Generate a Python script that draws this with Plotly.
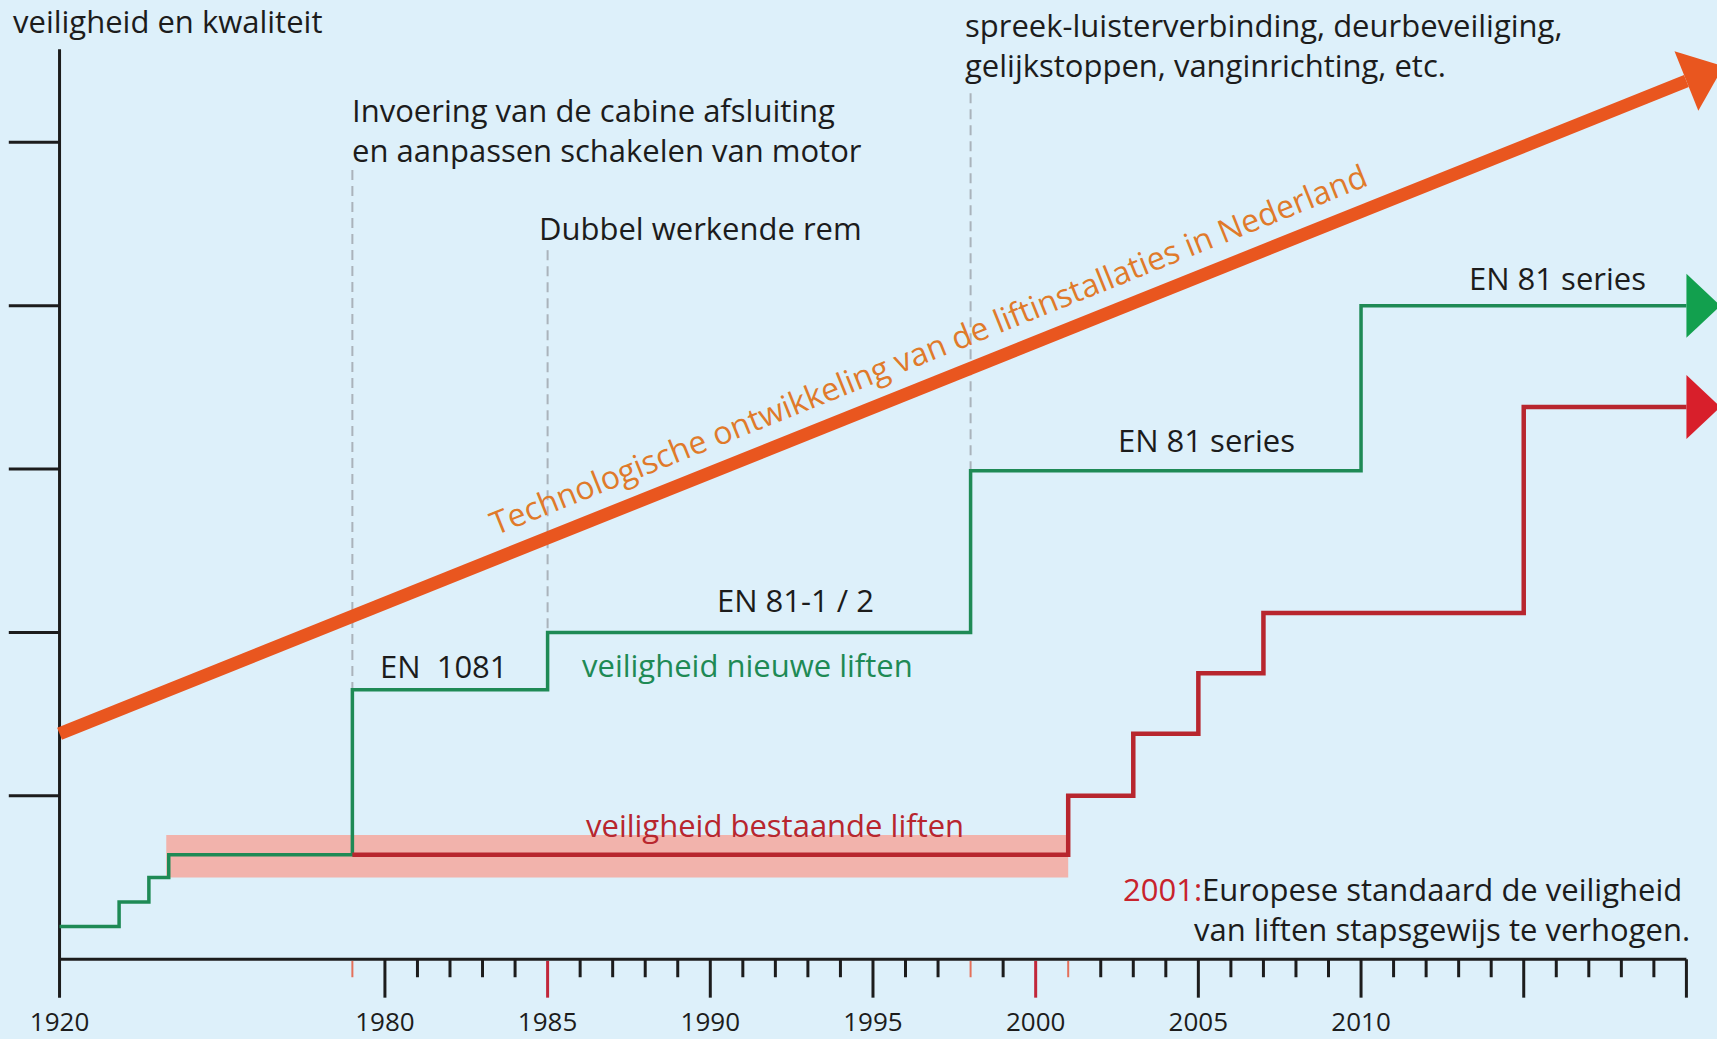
import math
import plotly.graph_objects as go

# ---------------- data ----------------
# x positions are years; the period 1920-1979 is drawn compressed (broken axis)
label_years = [1920, 1980, 1985, 1990, 1995, 2000, 2005, 2010]
label_texts = ["1920", "1980", "1985", "1990", "1995", "2000", "2005", "2010"]
long_tick_years = [1920, 1980, 1985, 1990, 1995, 2000, 2005, 2010, 2015, 2020]
short_tick_years = [1981, 1982, 1983, 1984, 1986, 1987, 1988, 1989, 1991, 1992, 1993,
                    1994, 1996, 1997, 1999, 2002, 2003, 2004, 2006, 2007, 2008, 2009,
                    2011, 2012, 2013, 2014, 2016, 2017, 2018, 2019]
red_long_tick_years = [1985, 2000]
red_short_tick_years = [1979, 1998, 2001]
y_tick_levels = [1, 2, 3, 4, 5]

# veiligheid nieuwe liften (green step line)
new_years = [1920, 1932, 1938, 1942, 1979, 1985, 1998, 2010, 2020]
new_levels = [0.20, 0.35, 0.50, 0.64, 1.65, 2.00, 2.99, 4.00, 4.00]

# veiligheid bestaande liften (red step line)
old_years = [1979, 2001, 2003, 2005, 2007, 2015, 2020]
old_levels = [0.64, 1.00, 1.38, 1.75, 2.12, 3.38, 3.38]

# pink band around existing-lift safety level
band_years = [1941.5, 2001]
band_low = [0.50, 0.50]
band_high = [0.76, 0.76]

# technological development arrow
tech_years = [1920, 2020]
tech_levels = [1.38, 5.375]

# dashed event markers
event_years = [1979, 1985, 1998]
event_top = [4.83, 4.34, 5.30]
event_bottom = [1.65, 2.00, 2.99]

# ---------------- helpers / style ----------------
W, H = 1717, 1039
XR = [1968.17, 2020.94]
YR = [-0.488, 5.871]
PX_X = W / (XR[1] - XR[0])
PX_Y = H / (YR[1] - YR[0])


def xu(year):
    """Broken axis: 1920-1979 compressed into 1970-1979."""
    if year >= 1979:
        return year
    return 1979 - (1979 - year) * 9.0 / 59.0


BG = "#ddf0fa"
GREEN = "#1e8a55"
GREEN_HEAD = "#12a04e"
RED = "#b8262e"
RED_HEAD = "#d81f2b"
ORANGE = "#e9561f"
ORANGE_TXT = "#e07a2a"
BAND = "rgba(246,168,158,0.85)"
DARK = "#1c1c1c"
FONT = "Open Sans"
FS = 31

fig = go.Figure()

# band
bx = [xu(v) for v in band_years]
fig.add_trace(go.Scatter(x=[bx[0], bx[1], bx[1], bx[0], bx[0]],
                         y=[band_low[0], band_low[1], band_high[1], band_high[0], band_low[0]],
                         fill="toself", fillcolor=BAND, line=dict(width=0),
                         mode="lines", hoverinfo="skip"))

# dashed event lines
for yr, t, b in zip(event_years, event_top, event_bottom):
    fig.add_trace(go.Scatter(x=[xu(yr), xu(yr)], y=[t, b], mode="lines",
                             line=dict(color="#aab3bb", width=2, dash="10px,6px"),
                             hoverinfo="skip"))

# axes (drawn as lines)
ax_x, ax_y = [], []
ax_x += [xu(1920), xu(2020), None]
ax_y += [0, 0, None]
ax_x += [xu(1920), xu(1920), None]
ax_y += [5.57, -0.235, None]
for lv in y_tick_levels:
    ax_x += [1968.44, xu(1920), None]
    ax_y += [lv, lv, None]
for yr in long_tick_years:
    if yr in red_long_tick_years or yr == 1920:
        continue
    ax_x += [xu(yr), xu(yr), None]
    ax_y += [0, -0.235, None]
for yr in short_tick_years:
    ax_x += [xu(yr), xu(yr), None]
    ax_y += [0, -0.11, None]
fig.add_trace(go.Scatter(x=ax_x, y=ax_y, mode="lines",
                         line=dict(color=DARK, width=3), hoverinfo="skip"))

rx, ry = [], []
for yr in red_long_tick_years:
    rx += [xu(yr), xu(yr), None]
    ry += [-0.01, -0.235, None]
fig.add_trace(go.Scatter(x=rx, y=ry, mode="lines",
                         line=dict(color="#c1273a", width=3), hoverinfo="skip"))
rx, ry = [], []
for yr in red_short_tick_years:
    rx += [xu(yr), xu(yr), None]
    ry += [-0.01, -0.11, None]
fig.add_trace(go.Scatter(x=rx, y=ry, mode="lines",
                         line=dict(color="#e4705a", width=2), hoverinfo="skip"))

# year labels
fig.add_trace(go.Scatter(x=[xu(v) for v in label_years], y=[-0.40] * len(label_years),
                         mode="text", text=label_texts,
                         textfont=dict(family=FONT, size=26, color=DARK),
                         hoverinfo="skip"))

# green step line
fig.add_trace(go.Scatter(x=[xu(v) for v in new_years], y=new_levels, mode="lines",
                         line=dict(color=GREEN, width=3.5, shape="hv"), hoverinfo="skip"))
# red step line
fig.add_trace(go.Scatter(x=[xu(v) for v in old_years], y=old_levels, mode="lines",
                         line=dict(color=RED, width=4.5, shape="hv"), hoverinfo="skip"))


def head(x_end, y_end, dx_px, dy_px, length, half):
    """Triangle arrowhead whose base centre is (x_end, y_end) in data coords."""
    n = math.hypot(dx_px, dy_px)
    ux, uy = dx_px / n, dy_px / n
    px, py = -uy, ux
    bx0 = (x_end - XR[0]) * PX_X
    by0 = (y_end - YR[0]) * PX_Y
    pts = [(bx0 + px * half, by0 + py * half),
           (bx0 + ux * length, by0 + uy * length),
           (bx0 - px * half, by0 - py * half)]
    xs = [XR[0] + p[0] / PX_X for p in pts]
    ys = [YR[0] + p[1] / PX_Y for p in pts]
    return xs + [xs[0]], ys + [ys[0]]


# green & red arrowheads
hx, hy = head(xu(new_years[-1]), new_levels[-1], 1, 0, 34, 32)
fig.add_trace(go.Scatter(x=hx, y=hy, fill="toself", fillcolor=GREEN_HEAD, mode="lines",
                         line=dict(width=0), hoverinfo="skip"))
hx, hy = head(xu(old_years[-1]), old_levels[-1], 1, 0, 34, 32)
fig.add_trace(go.Scatter(x=hx, y=hy, fill="toself", fillcolor=RED_HEAD, mode="lines",
                         line=dict(width=0), hoverinfo="skip"))

# orange technology arrow
tx = [xu(v) for v in tech_years]
fig.add_trace(go.Scatter(x=tx, y=tech_levels, mode="lines",
                         line=dict(color=ORANGE, width=13), hoverinfo="skip"))
dxp = (tx[1] - tx[0]) * PX_X
dyp = (tech_levels[1] - tech_levels[0]) * PX_Y
hx, hy = head(tx[1], tech_levels[1], dxp, dyp, 40, 32)
fig.add_trace(go.Scatter(x=hx, y=hy, fill="toself", fillcolor=ORANGE, mode="lines",
                         line=dict(width=0), hoverinfo="skip"))

angle = -math.degrees(math.atan2(dyp, dxp))

# ---------------- text ----------------
ann = []


def add(text, x, y, xanchor="left", color=DARK, size=FS, **kw):
    ann.append(dict(text=text, x=x, y=y, xref="x", yref="y", xanchor=xanchor,
                    yanchor="middle", showarrow=False,
                    font=dict(family=FONT, size=size, color=color), **kw))


add("veiligheid en kwaliteit", 1968.51, 5.745)
add("Invoering van de cabine afsluiting<br>en aanpassen schakelen van motor",
    1978.94, 5.077, align="left")
add("Dubbel werkende rem", 1984.66, 4.477)
add("spreek-luisterverbinding, deurbeveiliging,<br>gelijkstoppen, vanginrichting, etc.",
    1997.78, 5.597, align="left")
add("EN 81 series", 2016.05, 4.169, xanchor="center")
add("EN 81 series", 2005.25, 3.177, xanchor="center")
add("EN 81-1 / 2", 1992.63, 2.198, xanchor="center")
add("EN  1081", 1979.78, 1.796)
add("veiligheid nieuwe liften", 1986.0, 1.803, color=GREEN)
add("veiligheid bestaande liften", 1992.0, 0.824, xanchor="center", color=RED)
add("<span style='color:#c8232c'>2001:</span>Europese standaard de veiligheid",
    2019.92, 0.429, xanchor="right")
add("van liften stapsgewijs te verhogen.", 2020.16, 0.188, xanchor="right")
add("Technologische ontwikkeling van de liftinstallaties in Nederland",
    1996.7, 3.74, xanchor="center", color=ORANGE_TXT, size=32, textangle=angle)

fig.update_layout(
    width=W, height=H, autosize=False,
    margin=dict(l=0, r=0, t=0, b=0),
    paper_bgcolor=BG, plot_bgcolor=BG,
    showlegend=False,
    xaxis=dict(range=XR, visible=False, fixedrange=True),
    yaxis=dict(range=YR, visible=False, fixedrange=True),
    annotations=ann,
)

fig.write_html(
    "out.html",
    config={"displayModeBar": False},
    post_script="document.body.style.margin='0px';"
                "document.body.style.background='" + BG + "';",
)
